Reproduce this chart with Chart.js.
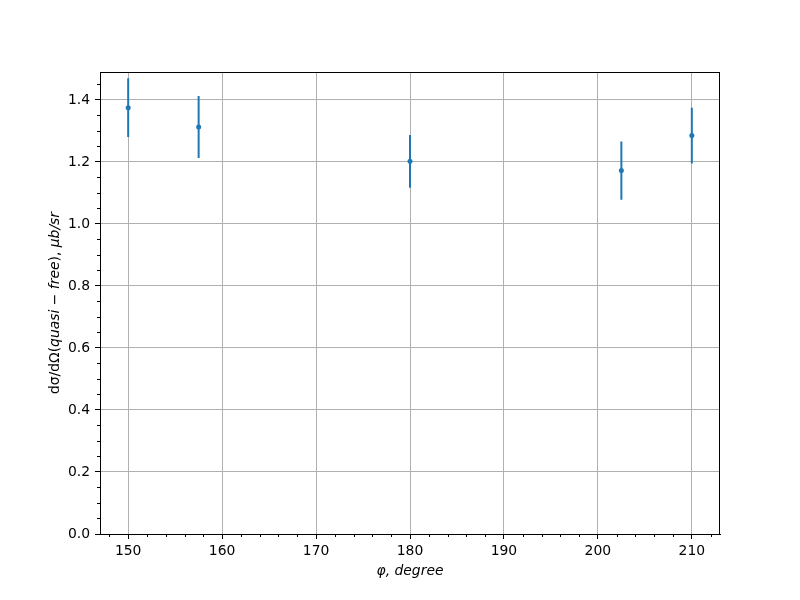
<!DOCTYPE html>
<html lang="en">
<head>
    <meta charset="UTF-8">
    <title>Quasi-free cross section vs phi</title>
    <script src="https://cdn.jsdelivr.net/npm/chart.js"></script>
    <style>
        body { margin: 0; background: #fff; }
        #wrap { width: 800px; height: 600px; }
    </style>
</head>
<body>
    <div id="wrap">
        <canvas id="chart" width="800" height="600"></canvas>
    </div>

    <script>
        // data
        const phi = [150, 157.5, 180, 202.5, 210];
        const sigma = [1.375, 1.313, 1.202, 1.172, 1.285];
        const sigmaErr = [0.095, 0.1, 0.085, 0.094, 0.09];

        const xTicks = [150, 160, 170, 180, 190, 200, 210];
        const yTicks = [0.0, 0.2, 0.4, 0.6, 0.8, 1.0, 1.2, 1.4];

        const blue = '#1f77b4';
        const font = { family: 'DejaVu Sans', size: 13.9 };

        // error bars as a broken line: low, high, gap
        const errData = [];
        phi.forEach((x, i) => {
            errData.push({ x: x, y: sigma[i] - sigmaErr[i] });
            errData.push({ x: x, y: sigma[i] + sigmaErr[i] });
            errData.push({ x: x, y: null });
        });

        const extras = {
            id: 'extras',
            afterDraw(chart) {
                const ctx = chart.ctx;
                const a = chart.chartArea;
                const xs = chart.scales.x;
                const ys = chart.scales.y;
                ctx.save();
                ctx.strokeStyle = '#000';
                ctx.lineWidth = 1;

                // minor ticks
                ctx.beginPath();
                for (let v = 148; v <= 212; v += 2) {
                    if (v % 10 === 0) continue;
                    const px = Math.round(xs.getPixelForValue(v)) + 0.5;
                    ctx.moveTo(px, a.bottom);
                    ctx.lineTo(px, a.bottom + 3);
                }
                for (let k = 1; k <= 29; k++) {
                    if (k % 4 === 0) continue;
                    const py = Math.round(ys.getPixelForValue(k * 0.05)) + 0.5;
                    ctx.moveTo(a.left, py);
                    ctx.lineTo(a.left - 3, py);
                }
                ctx.stroke();

                // frame
                ctx.strokeRect(a.left + 0.5, a.top + 0.5, a.right - a.left - 1, a.bottom - a.top);

                // x title
                ctx.fillStyle = '#000';
                ctx.font = 'italic 13.9px "DejaVu Sans"';
                ctx.textAlign = 'center';
                ctx.textBaseline = 'middle';
                ctx.fillText('φ, degree', (a.left + a.right) / 2, 571);

                // y title, mixed upright / italic
                const parts = [
                    ['dσ/dΩ(', ''],
                    ['quasi', 'italic '],
                    [' − ', ''],
                    ['free', 'italic '],
                    ('), ' && ['), ', '']),
                    ['μb/sr', 'italic ']
                ];
                let total = 0;
                parts.forEach(p => {
                    ctx.font = p[1] + '13.9px "DejaVu Sans"';
                    total += ctx.measureText(p[0]).width;
                });
                ctx.translate(55, (a.top + a.bottom) / 2);
                ctx.rotate(-Math.PI / 2);
                ctx.textAlign = 'left';
                let cx = -total / 2;
                parts.forEach(p => {
                    ctx.font = p[1] + '13.9px "DejaVu Sans"';
                    ctx.fillText(p[0], cx, 0);
                    cx += ctx.measureText(p[0]).width;
                });
                ctx.restore();
            }
        };

        new Chart(document.getElementById('chart'), {
            type: 'scatter',
            data: {
                datasets: [
                    {
                        data: phi.map((x, i) => ({ x: x, y: sigma[i] })),
                        backgroundColor: blue,
                        borderColor: blue,
                        pointRadius: 2.5,
                        pointBorderWidth: 0,
                        showLine: false
                    },
                    {
                        data: errData,
                        borderColor: blue,
                        borderWidth: 2,
                        pointRadius: 0,
                        showLine: true,
                        spanGaps: false
                    }
                ]
            },
            options: {
                responsive: false,
                animation: false,
                layout: { padding: { top: 72, right: 80, left: 0, bottom: 0 } },
                plugins: { legend: { display: false }, tooltip: { enabled: false } },
                scales: {
                    x: {
                        type: 'linear',
                        min: 147,
                        max: 213,
                        afterBuildTicks: s => { s.ticks = xTicks.map(v => ({ value: v })); },
                        afterFit: s => { s.height = 66; },
                        ticks: { font: font, color: '#000', padding: 4, maxRotation: 0 },
                        grid: { color: '#b0b0b0', lineWidth: 1, tickColor: '#000', tickLength: 5 },
                        border: { color: '#000', width: 1 }
                    },
                    y: {
                        type: 'linear',
                        min: 0,
                        max: 1.49,
                        afterBuildTicks: s => { s.ticks = yTicks.map(v => ({ value: v })); },
                        afterFit: s => { s.width = 100; },
                        ticks: { font: font, color: '#000', padding: 5, callback: v => v.toFixed(1) },
                        grid: { color: '#b0b0b0', lineWidth: 1, tickColor: '#000', tickLength: 5 },
                        border: { color: '#000', width: 1 }
                    }
                }
            },
            plugins: [extras]
        });
    </script>
</body>
</html>
